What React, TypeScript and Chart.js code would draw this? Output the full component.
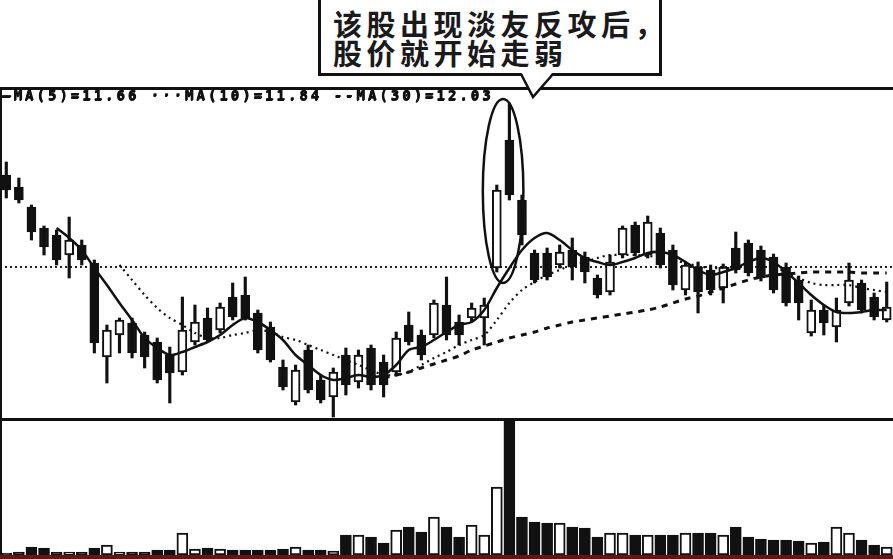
import React, { useEffect, useRef } from "react";
import { Chart, registerables } from "chart.js";
Chart.register(...registerables);

const OPEN = [13.01,12.89,12.69,12.48,12.41,12.21,12.31,12.13,11.19,11.41,11.53,11.41,11.34,11.21,11.04,11.34,11.58,11.46,11.79,11.81,11.63,11.49,11.09,10.74,11.26,10.96,10.79,11.21,10.94,11.28,11.14,11.04,11.51,11.41,11.41,11.71,11.54,11.58,11.58,12.08,13.36,12.76,12.23,12.23,12.11,12.26,12.19,11.98,11.84,12.21,12.51,12.21,12.43,12.26,11.86,12.09,12.06,11.88,12.28,12.33,12.26,12.19,12.09,11.96,11.43,11.66,11.49,11.73,11.93,11.79,11.56];
const HIGH = [13.14,12.98,12.71,12.50,12.46,12.59,12.36,12.16,11.51,11.58,11.58,11.44,11.38,11.29,11.79,11.71,11.68,11.73,11.93,11.99,11.66,11.54,11.16,11.11,11.31,11.01,11.08,11.28,11.26,11.31,11.21,11.44,11.64,11.46,11.76,11.99,11.61,11.73,11.78,12.91,13.73,12.81,12.26,12.28,12.31,12.38,12.24,12.01,12.21,12.50,12.54,12.60,12.48,12.31,12.14,12.14,12.11,12.12,12.44,12.36,12.30,12.22,12.13,12.00,11.76,11.71,11.78,12.13,11.96,11.83,11.94];
const LOW = [12.78,12.73,12.36,12.21,12.11,11.98,12.11,11.23,10.93,11.23,11.18,11.08,10.93,10.73,11.01,11.31,11.34,11.43,11.56,11.56,11.23,11.14,10.86,10.71,10.83,10.73,10.59,10.81,10.88,10.86,10.79,11.00,11.31,11.16,11.38,11.36,11.31,11.54,11.31,12.04,12.76,12.31,11.93,11.96,12.08,11.96,11.93,11.78,11.81,12.18,12.20,12.18,12.08,11.86,11.81,11.63,11.81,11.73,12.03,12.00,11.95,11.83,11.70,11.56,11.40,11.41,11.34,11.70,11.63,11.56,11.54];
const CLOSE = [12.86,12.76,12.44,12.29,12.16,12.36,12.16,11.33,11.46,11.56,11.23,11.19,10.96,11.03,11.46,11.54,11.36,11.69,11.59,11.58,11.26,11.16,10.89,11.06,10.86,10.76,11.04,10.91,11.21,10.91,10.91,11.38,11.34,11.21,11.73,11.41,11.41,11.68,11.71,12.86,12.81,12.41,11.96,11.99,12.24,12.09,12.04,11.81,12.14,12.48,12.23,12.54,12.11,11.91,12.11,11.84,11.86,12.09,12.06,12.03,11.98,11.86,11.73,11.73,11.66,11.53,11.66,11.96,11.66,11.59,11.69];

const MA5 = [null,null,null,null,12.48,12.38,12.26,12.08,11.91,11.73,11.56,11.38,11.28,11.21,11.24,11.29,11.34,11.41,11.51,11.58,11.54,11.46,11.36,11.21,11.11,11.01,10.96,10.98,11.01,10.99,11.01,11.11,11.26,11.29,11.36,11.44,11.51,11.54,11.66,11.88,12.08,12.26,12.38,12.43,12.36,12.26,12.18,12.14,12.11,12.14,12.18,12.23,12.24,12.21,12.14,12.06,12.01,12.04,12.08,12.14,12.18,12.14,12.04,11.93,11.81,11.71,11.64,11.63,11.64,11.66,11.66];
const MA10 = [null,null,null,null,null,null,null,null,null,12.11,11.96,11.81,11.68,11.58,11.51,11.43,11.38,11.38,11.41,11.43,11.46,11.44,11.39,11.36,11.31,11.26,11.21,11.16,11.11,11.06,11.01,11.01,11.04,11.11,11.18,11.24,11.31,11.36,11.41,11.56,11.73,11.86,11.94,12.01,12.06,12.11,12.14,12.18,12.21,12.21,12.21,12.20,12.19,12.16,12.13,12.10,12.08,12.08,12.08,12.10,12.11,12.09,12.04,11.98,11.93,11.91,11.91,11.91,11.88,11.86,11.84];
const MA30 = [null,null,null,null,null,null,null,null,null,null,null,null,null,null,null,null,null,null,null,null,null,null,null,null,null,null,null,null,null,null,10.98,11.01,11.04,11.08,11.12,11.16,11.20,11.26,11.30,11.34,11.38,11.41,11.44,11.48,11.51,11.54,11.56,11.58,11.60,11.62,11.64,11.66,11.69,11.73,11.77,11.80,11.84,11.88,11.92,11.96,11.99,12.01,12.02,12.03,12.04,12.04,12.04,12.04,12.03,12.03,12.03];

const VOLUME = [200,300,800,700,300,300,300,700,1000,300,300,300,500,500,2200,600,700,600,500,500,500,500,600,800,500,500,400,2000,2000,1800,1200,2500,2800,2300,3800,2800,1800,3000,2000,6800,13400,3800,3300,3200,3200,2800,2700,1800,2200,2200,2000,2000,2000,2000,2200,2200,2200,2000,2800,1800,1600,1500,1500,1400,1200,1300,2800,2200,1500,1000,800];

const CATEGORIES = OPEN.map((_, i) => String(i + 1));
const REF_LEVEL = 12.09;
const PRICE_MIN = 10.58;
const PRICE_MAX = 13.87;
const VOL_MAX = 13400;
const SPIKE = [39, 40];

const CALLOUT = ["该股出现淡友反攻后，", "股价就开始走弱"];

const INK = "#111";
const isUp = (i: number) => CLOSE[i] >= OPEN[i];
const last = (a: (number | null)[]) => {
  for (let i = a.length - 1; i >= 0; i--) if (a[i] != null) return a[i] as number;
  return 0;
};

export default function App() {
  const priceRef = useRef<HTMLCanvasElement | null>(null);
  const volRef = useRef<HTMLCanvasElement | null>(null);

  useEffect(() => {
    const refLine = {
      id: "refLine",
      beforeDatasetsDraw(chart: any) {
        const { ctx, chartArea, scales } = chart;
        const y = scales.y.getPixelForValue(REF_LEVEL);
        ctx.save();
        ctx.strokeStyle = "#222";
        ctx.lineWidth = 2;
        ctx.setLineDash([2, 3]);
        ctx.beginPath();
        ctx.moveTo(chartArea.left, y);
        ctx.lineTo(chartArea.right, y);
        ctx.stroke();
        ctx.restore();
      },
    };
    const ellipse = {
      id: "ellipse",
      afterDatasetsDraw(chart: any) {
        const { ctx, scales } = chart;
        const x1 = scales.x.getPixelForValue(SPIKE[0]);
        const x2 = scales.x.getPixelForValue(SPIKE[1]);
        const top = scales.y.getPixelForValue(HIGH[SPIKE[1]]) - 4;
        const bottom = scales.y.getPixelForValue(OPEN[SPIKE[0]]) + 15;
        const cx = (x1 + x2) / 2;
        const rx = (x2 - x1) / 2 + 14;
        ctx.save();
        ctx.strokeStyle = INK;
        ctx.lineWidth = 2.5;
        ctx.beginPath();
        ctx.ellipse(cx, (top + bottom) / 2, rx, (bottom - top) / 2, 0, 0, Math.PI * 2);
        ctx.stroke();
        ctx.restore();
      },
    };

    const price = new Chart(priceRef.current as HTMLCanvasElement, {
      type: "bar",
      data: {
        labels: CATEGORIES,
        datasets: [
          {
            type: "line",
            label: "MA5",
            data: MA5,
            borderColor: INK,
            borderWidth: 2.5,
            pointRadius: 0,
            tension: 0.3,
            order: 0,
          } as any,
          {
            type: "line",
            label: "MA10",
            data: MA10,
            borderColor: INK,
            borderWidth: 2.2,
            borderDash: [2, 4],
            pointRadius: 0,
            tension: 0.3,
            order: 0,
          } as any,
          {
            type: "line",
            label: "MA30",
            data: MA30,
            borderColor: INK,
            borderWidth: 3,
            borderDash: [6, 6],
            pointRadius: 0,
            tension: 0.3,
            order: 0,
          } as any,
          {
            label: "body",
            data: OPEN.map((o, i) => [o, CLOSE[i]]),
            backgroundColor: OPEN.map((_, i) => (isUp(i) ? "#fff" : INK)),
            borderColor: INK,
            borderWidth: 2,
            borderSkipped: false,
            barThickness: 9,
            grouped: false,
            order: 2,
          } as any,
          {
            label: "wick",
            data: LOW.map((l, i) => [l, HIGH[i]]),
            backgroundColor: INK,
            borderWidth: 0,
            barThickness: 2.5,
            grouped: false,
            order: 3,
          } as any,
        ],
      },
      options: {
        animation: false,
        responsive: false,
        layout: { padding: 0 },
        plugins: { legend: { display: false }, tooltip: { enabled: false } },
        scales: {
          x: { display: false, offset: true, grid: { display: false } },
          y: { display: false, min: PRICE_MIN, max: PRICE_MAX },
        },
      },
      plugins: [refLine, ellipse],
    });

    const vol = new Chart(volRef.current as HTMLCanvasElement, {
      type: "bar",
      data: {
        labels: CATEGORIES,
        datasets: [
          {
            label: "VOL",
            data: VOLUME,
            backgroundColor: VOLUME.map((_, i) => (isUp(i) ? "#fff" : INK)),
            borderColor: INK,
            borderWidth: 2,
            borderSkipped: false,
            barThickness: 11,
          },
        ],
      },
      options: {
        animation: false,
        responsive: false,
        layout: { padding: 0 },
        plugins: { legend: { display: false }, tooltip: { enabled: false } },
        scales: {
          x: { display: false, offset: true, grid: { display: false } },
          y: { display: false, min: 0, max: VOL_MAX },
        },
      },
    });

    return () => {
      price.destroy();
      vol.destroy();
    };
  }, []);

  const legend = `—MA(5)=${last(MA5).toFixed(2)} ···MA(10)=${last(MA10).toFixed(2)} --MA(30)=${last(MA30).toFixed(2)}`;

  return (
    <div style={{ position: "fixed", left: 0, top: 0, width: 893, height: 559, background: "#fff", overflow: "hidden" }}>
      <canvas ref={priceRef} width={893} height={329} style={{ position: "absolute", left: 0, top: 89, width: 893, height: 329 }} />
      <canvas ref={volRef} width={893} height={134} style={{ position: "absolute", left: 0, top: 421, width: 893, height: 134 }} />
      {/* frame */}
      <div style={{ position: "absolute", left: 0, top: 87, width: 893, height: 3, background: INK }} />
      <div style={{ position: "absolute", left: 0, top: 418, width: 893, height: 3, background: INK }} />
      <div style={{ position: "absolute", left: 0, top: 87, width: 2, height: 468, background: INK }} />
      <div style={{ position: "absolute", left: 0, top: 555, width: 893, height: 4, background: "#6a1212" }} />
      {/* legend */}
      <div style={{ position: "absolute", left: 2, top: 88, font: "bold 14px 'DejaVu Sans Mono', monospace", letterSpacing: "3px", color: INK, whiteSpace: "pre", lineHeight: "14px", textShadow: "0.7px 0 0 #111, 0 0.7px 0 #111" }}>
        {legend}
      </div>
      {/* callout */}
      <div style={{ position: "absolute", left: 318, top: -4, width: 338, height: 74, border: `3px solid ${INK}`, background: "#fff", boxSizing: "content-box" }}>
        <div style={{ position: "absolute", left: 12, top: 10, font: "bold 29px 'Noto Sans CJK SC', sans-serif", letterSpacing: "4.5px", lineHeight: "29px", color: "#1a1a1a", whiteSpace: "pre" }}>
          {CALLOUT[0]}
          <br />
          {CALLOUT[1]}
        </div>
      </div>
      <svg width={893} height={120} style={{ position: "absolute", left: 0, top: 0 }}>
        <polygon points="521,72 533,97 553,72" fill="#fff" />
        <polyline points="521,74 533,97 553,74" fill="none" stroke={INK} strokeWidth={2.5} />
      </svg>
    </div>
  );
}
